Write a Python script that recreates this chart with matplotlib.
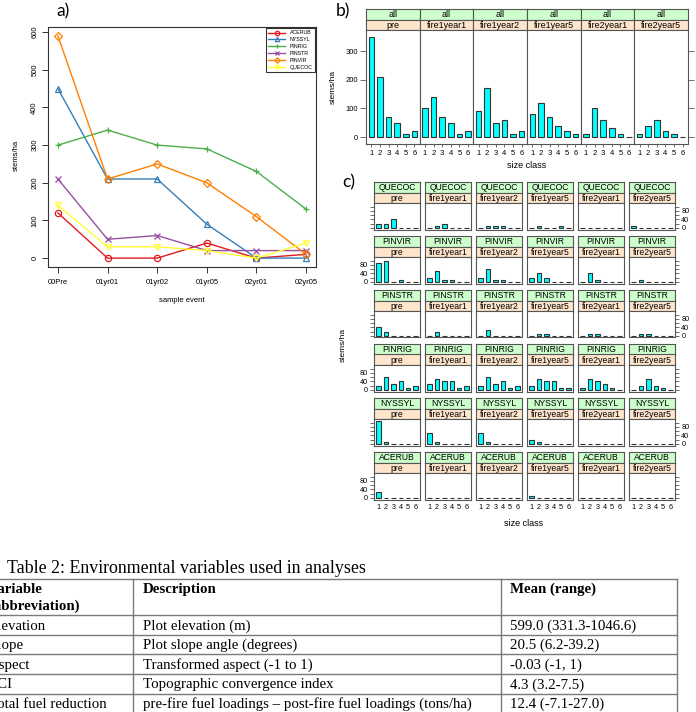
import numpy as np
import matplotlib.pyplot as plt

# ---- data ----
events = ['00Pre', '01yr01', '01yr02', '01yr05', '02yr01', '02yr05']
species = ['ACERUB', 'NYSSYL', 'PINRIG', 'PINSTR', 'PINVIR', 'QUECOC']
acerub = [120, 0, 0, 40, 0, 10]
nyssyl = [450, 210, 210, 90, 0, 0]
pinrig = [300, 340, 300, 290, 230, 130]
pinstr = [210, 50, 60, 20, 20, 20]
pinvir = [590, 210, 250, 200, 110, 10]
quecoc = [140, 30, 30, 20, 0, 40]

periods = ['pre', 'fire1year1', 'fire1year2', 'fire1year5', 'fire2year1', 'fire2year5']
size_class = [1, 2, 3, 4, 5, 6]

# panel b: all species, stems/ha by size class
all_pre = [350, 210, 70, 50, 10, 20]
all_f1y1 = [100, 140, 70, 50, 10, 20]
all_f1y2 = [90, 170, 50, 60, 10, 20]
all_f1y5 = [80, 120, 70, 40, 20, 10]
all_f2y1 = [10, 100, 60, 30, 10, 0]
all_f2y5 = [10, 40, 60, 20, 10, 0]

# panel c: per species, one list per period
c_quecoc = [[20, 20, 40, 0, 0, 0], [0, 10, 20, 0, 0, 0], [0, 10, 10, 10, 0, 0],
            [0, 10, 0, 0, 10, 0], [0, 0, 0, 0, 0, 0], [10, 0, 0, 0, 0, 0]]
c_pinvir = [[90, 100, 0, 10, 0, 0], [20, 50, 10, 10, 0, 0], [20, 60, 10, 10, 0, 0],
            [20, 40, 20, 0, 0, 0], [0, 40, 10, 0, 0, 0], [0, 10, 0, 0, 0, 0]]
c_pinstr = [[40, 20, 0, 0, 0, 0], [0, 20, 0, 0, 0, 0], [0, 30, 0, 0, 0, 0],
            [0, 10, 10, 0, 0, 0], [0, 10, 10, 0, 0, 0], [0, 10, 10, 0, 0, 0]]
c_pinrig = [[20, 60, 30, 40, 10, 20], [30, 50, 40, 40, 10, 20], [20, 60, 30, 40, 10, 20],
            [20, 50, 40, 40, 10, 10], [10, 50, 40, 30, 10, 0], [0, 20, 50, 20, 10, 0]]
c_nyssyl = [[110, 10, 0, 0, 0, 0], [50, 10, 0, 0, 0, 0], [50, 10, 0, 0, 0, 0],
            [20, 10, 0, 0, 0, 0], [0, 0, 0, 0, 0, 0], [0, 0, 0, 0, 0, 0]]
c_acerub = [[30, 0, 0, 0, 0, 0], [0, 0, 0, 0, 0, 0], [0, 0, 0, 0, 0, 0],
            [10, 0, 0, 0, 0, 0], [0, 0, 0, 0, 0, 0], [0, 0, 0, 0, 0, 0]]

table_cols = ['Variable\n(abbreviation)', 'Description', 'Mean (range)']
table_var = ['Elevation', 'Slope', 'Aspect', 'TCI', 'Total fuel reduction']
table_desc = ['Plot elevation (m)', 'Plot slope angle (degrees)', 'Transformed aspect (-1 to 1)',
              'Topographic convergence index',
              'pre-fire fuel loadings \u2013 post-fire fuel loadings (tons/ha)']
table_mean = ['599.0 (331.3-1046.6)', '20.5 (6.2-39.2)', '-0.03 (-1, 1)', '4.3 (3.2-7.5)',
              '12.4 (-7.1-27.0)']

W, H = 696, 712
plt.rcParams['font.family'] = ['Liberation Sans', 'DejaVu Sans']
fig = plt.figure(figsize=(W / 100, H / 100), dpi=100)


def px_axes(x0, y0, x1, y1):
    return fig.add_axes([x0 / W, 1 - y1 / H, (x1 - x0) / W, (y1 - y0) / H])


def ptext(x, y, s, **kw):
    return fig.text(x / W, 1 - y / H, s, **kw)


# ---- panel a ----
set1 = ['#E41A1C', '#377EB8', '#4DAF4A', '#984EA3', '#FF7F00', '#FFFF33']
markers = ['o', '^', '+', 'x', 'D', 'v']
series_a = [acerub, nyssyl, pinrig, pinstr, pinvir, quecoc]
axa = px_axes(48, 27, 316, 267)
xs = np.arange(len(events))
for name, vals, col, mk in zip(species, series_a, set1, markers):
    axa.plot(xs, vals, color=col, lw=1.0, marker=mk, ms=4.5 if mk != 'D' else 4,
             mfc='none', mec=col, mew=0.9, label=name)
axa.set_xlim(-0.2, 5.2)
axa.set_ylim(-23.6, 613.6)
axa.set_xticks(xs)
axa.set_xticklabels(events)
axa.set_yticks(range(0, 601, 100))
axa.tick_params(axis='both', labelsize=5.5, length=4, width=0.7, color='#333333')
axa.tick_params(axis='x', pad=5)
axa.tick_params(axis='y', pad=3)
for lab in axa.get_yticklabels():
    lab.set_rotation(90)
    lab.set_va('center')
for sp in axa.spines.values():
    sp.set_linewidth(0.8)
    sp.set_color('#333333')
leg = axa.legend(loc='upper right', fontsize=3.8, frameon=True, fancybox=False,
                 borderaxespad=0.15, handlelength=3.2, labelspacing=0.35,
                 borderpad=0.5, handletextpad=0.8, markerscale=0.7)
leg.get_frame().set_edgecolor('black')
leg.get_frame().set_linewidth(0.8)
ptext(182, 300, 'sample event', fontsize=5.5, ha='center', va='center')
ptext(16, 155, 'stems/ha', fontsize=5.5, ha='center', va='center', rotation=90)

# ---- helpers for lattice panels ----
STRIP_G = '#CCFFCC'
STRIP_O = '#FFE5CC'
EDGE = '#555555'


def strip(x0, y0, x1, y1, text, color, fs):
    ax = px_axes(x0, y0, x1, y1)
    ax.set_facecolor(color)
    ax.set_xticks([])
    ax.set_yticks([])
    for sp in ax.spines.values():
        sp.set_linewidth(0.8)
        sp.set_color(EDGE)
    ax.text(0.5, 0.45, text, transform=ax.transAxes, ha='center', va='center', fontsize=fs)
    return ax


def bar_panel(ax, vals, ylim):
    ax.bar(size_class, vals, width=0.62, color='#00FFFF', edgecolor='#333333', linewidth=0.8)
    ax.set_xlim(0.4, 6.6)
    ax.set_ylim(*ylim)
    for sp in ax.spines.values():
        sp.set_linewidth(0.8)
        sp.set_color(EDGE)


# ---- panel b ----
b_vals = [all_pre, all_f1y1, all_f1y2, all_f1y5, all_f2y1, all_f2y5]
bx0, bx1 = 366, 688
bw = (bx1 - bx0) / 6
for i, (per, vals) in enumerate(zip(periods, b_vals)):
    x0 = bx0 + i * bw
    x1 = x0 + bw
    strip(x0, 9, x1, 19.5, 'all', STRIP_G, 6.5)
    strip(x0, 19.5, x1, 30, per, STRIP_O, 6.5)
    ax = px_axes(x0, 30, x1, 144)
    bar_panel(ax, vals, (-24.5, 374.5))
    ax.set_xticks(size_class)
    ax.tick_params(axis='x', labelsize=5.5, length=2.5, width=0.6, color=EDGE, pad=2)
    ax.set_yticks([0, 100, 200, 300])
    ax.tick_params(axis='y', labelsize=5.5, length=4, width=0.6, color=EDGE, pad=2,
                   left=(i == 0), labelleft=(i == 0), right=(i == 5), labelright=False)
ptext(527, 166, 'size class', fontsize=6.5, ha='center', va='center')
ptext(333, 87, 'stems/ha', fontsize=6, ha='center', va='center', rotation=90)

# ---- panel c ----
c_rows = ['QUECOC', 'PINVIR', 'PINSTR', 'PINRIG', 'NYSSYL', 'ACERUB']
c_data = [c_quecoc, c_pinvir, c_pinstr, c_pinrig, c_nyssyl, c_acerub]
for r, (spname, rows) in enumerate(zip(c_rows, c_data)):
    top = 182 + r * 54.0
    label_left = r in (1, 3, 5)
    for i, (per, vals) in enumerate(zip(periods, rows)):
        x0 = 374.3 + i * 51.0
        x1 = x0 + 45.7
        strip(x0, top, x1, top + 10.5, spname, STRIP_G, 6.2)
        strip(x0, top + 10.5, x1, top + 21, per, STRIP_O, 6.2)
        ax = px_axes(x0, top + 21, x1, top + 47.5)
        bar_panel(ax, vals, (-7.7, 117.7))
        if r == 5:
            ax.set_xticks(size_class)
            ax.tick_params(axis='x', labelsize=5.2, length=0, pad=3)
        else:
            ax.set_xticks([])
        ax.set_yticks([0, 20, 40, 60, 80, 100])
        ax.set_yticklabels(['0', '', '40', '', '80', ''])
        ax.tick_params(axis='y', labelsize=5.2, length=3, width=0.6, color=EDGE, pad=1.5,
                       left=(i == 0), right=(i == 5),
                       labelleft=(i == 0 and label_left),
                       labelright=(i == 5 and not label_left))
ptext(524, 523, 'size class', fontsize=6.5, ha='center', va='center')
ptext(343, 345, 'stems/ha', fontsize=6, ha='center', va='center', rotation=90)

# panel letters
for lx, ly, lt in [(63, 11, 'a)'), (343, 11, 'b)'), (349, 182, 'c)')]:
    ptext(lx, ly, lt, fontsize=12.5, ha='center', va='center', family=['Lato', 'DejaVu Sans'])

# ---- table ----
serif = ['Liberation Serif', 'DejaVu Serif']
TFS = 10.7
ptext(7, 573.3, 'Table 2: Environmental variables used in analyses', fontsize=12.9,
      family=serif, va='baseline')
tab = px_axes(0, 0, W, H)
tab.set_xlim(0, W)
tab.set_ylim(H, 0)
tab.axis('off')
tab.patch.set_alpha(0)
row_lines = [579.3, 615, 634.7, 654.3, 674, 693.5, 713]
line_col = '#7a7a7a'
for yl in row_lines:
    tab.plot([-5, 676.7], [yl, yl], color=line_col, lw=1.0, clip_on=False)
for xl in [133.3, 501, 676.7]:
    tab.plot([xl, xl], [579.3, 713], color=line_col, lw=1.0, clip_on=False)
col_x = [-11, 143, 510]
ptext(col_x[0], 592.7, 'Variable', fontsize=TFS, family=serif, weight='bold', va='baseline')
ptext(col_x[0], 610, '(abbreviation)', fontsize=TFS, family=serif, weight='bold', va='baseline')
ptext(col_x[1], 592.7, table_cols[1], fontsize=TFS, family=serif, weight='bold', va='baseline')
ptext(col_x[2], 592.7, table_cols[2], fontsize=TFS, family=serif, weight='bold', va='baseline')
row_base = [629.5, 649.2, 668.9, 688.4, 707.8]
for yb, v, d, m in zip(row_base, table_var, table_desc, table_mean):
    ptext(col_x[0], yb, v, fontsize=TFS, family=serif, va='baseline')
    ptext(col_x[1], yb, d, fontsize=TFS, family=serif, va='baseline')
    ptext(col_x[2], yb, m, fontsize=TFS, family=serif, va='baseline')

fig.savefig('out.png', dpi=100)
